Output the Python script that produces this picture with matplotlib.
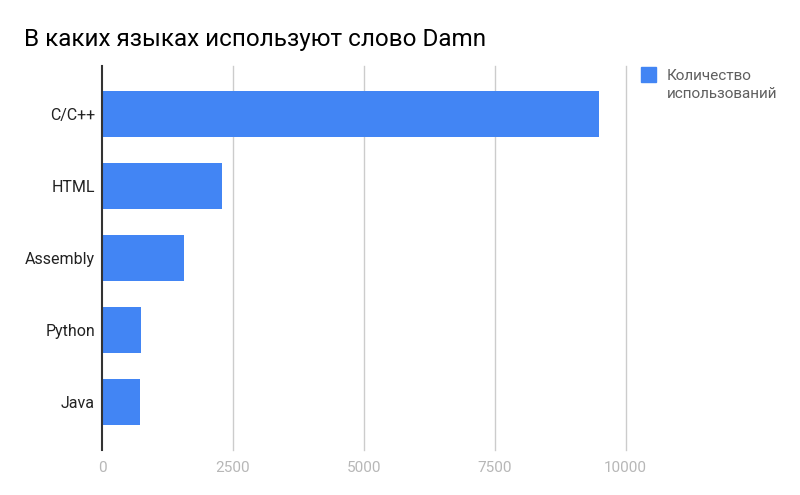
import matplotlib.pyplot as plt

plt.rcParams['font.family'] = ['Roboto', 'DejaVu Sans']

languages = ["C/C++", "HTML", "Assembly", "Python", "Java"]
counts = [9490, 2300, 1570, 745, 720]
xticks = [0, 2500, 5000, 7500, 10000]
series_name = "Количество\nиспользований"
title = "В каких языках используют слово Damn"

fig = plt.figure(figsize=(8, 4.95), dpi=100)
ax = fig.add_axes([0.1275, 1 - 450 / 495, 0.6545, 384 / 495])

ypos = list(range(len(languages)))
ax.barh(ypos, counts, height=0.64, color="#4285f4", zorder=3)

ax.set_xlim(0, 10000)
ax.set_ylim(len(languages) - 1 + 0.67, -0.67)
ax.set_yticks(ypos)
ax.set_yticklabels(languages, fontsize=11.5, color="#222222")
ax.set_xticks(xticks)
ax.set_xticklabels([str(v) for v in xticks], fontsize=11, color="#b7b7b7")
ax.tick_params(axis="both", length=0)
ax.tick_params(axis="y", pad=5)
ax.tick_params(axis="x", pad=8)

for v in xticks[1:]:
    ax.axvline(v, color="#cccccc", linewidth=1, zorder=1, clip_on=False)

for s in ["top", "right", "bottom"]:
    ax.spines[s].set_visible(False)
ax.spines["left"].set_color("#333333")
ax.spines["left"].set_linewidth(1.5)
ax.spines["left"].set_zorder(4)

fig.text(0.03, 0.92, title, fontsize=17.5, color="#000000", va="center")

# legend
fig.patches.append(plt.Rectangle((641 / 800, 1 - 82 / 495), 15 / 800, 15 / 495,
                                 transform=fig.transFigure, color="#4285f4"))
fig.text(667 / 800, 1 - 85 / 495, series_name, fontsize=11, color="#5f5f5f",
         va="center", linespacing=1.3)

fig.savefig("out.png", dpi=100)
